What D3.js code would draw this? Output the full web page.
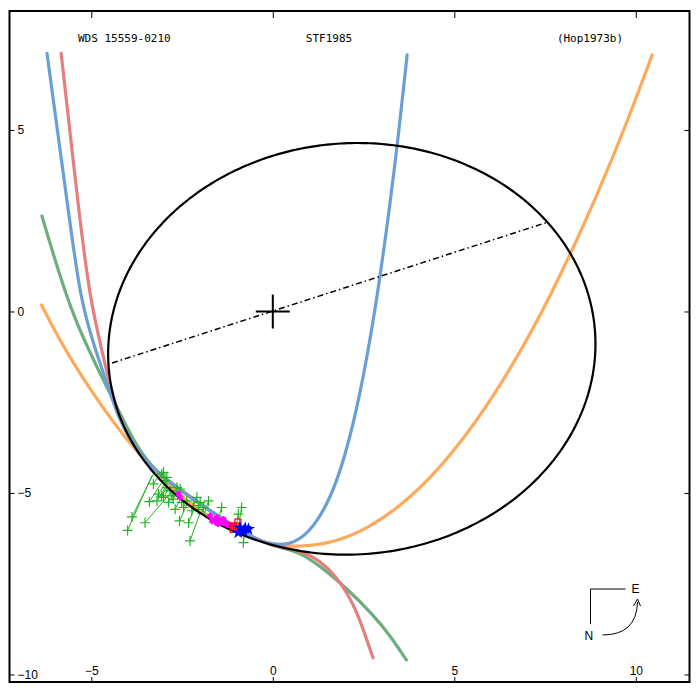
<!DOCTYPE html>
<html>
<head>
<meta charset="utf-8">
<script src="https://cdn.jsdelivr.net/npm/d3@7"></script>
<style>
  body { margin: 0; background: #fff; }
  svg { display: block; }
</style>
</head>
<body>
<div id="chart"></div>
<script>
// --- data (arcsec, x = east-west offset, y = north-south) ---
const titleLeft = "WDS 15559-0210";
const titleMid = "STF1985";
const titleRight = "(Hop1973b)";

const xTicks = [-5, 0, 5, 10];
const yTicks = [5, 0, -5, -10];

// points traced along the apparent orbit (ellipse is fitted to these)
const orbitPts = [
  [2.40, 4.67], [4.97, 4.20], [6.07, 3.65], [6.80, 3.19], [7.54, 2.45], [8.18, 1.57],
  [8.64, 0.79], [8.84, -1.14], [8.77, -2.26], [8.09, -3.46], [5.15, -6.09], [3.50, -6.51],
  [1.66, -6.71], [0.11, -6.51], [-0.54, -6.32], [-1.82, -5.54], [-2.83, -4.88],
  [-3.65, -3.97], [-4.56, -1.48], [-3.93, 1.25], [-3.10, 2.35], [-1.45, 3.65], [-0.17, 4.20]
];

// line of nodes end points
const nodeLine = [[-4.43, -1.42], [7.54, 2.45]];

// other solutions / ephemeris curves
const blueCurve = [
  [-6.22, 7.11], [-5.60, 2.54], [-5.30, 0.32], [-4.89, -1.06], [-4.53, -2.08], [-4.26, -2.91],
  [-3.93, -3.55], [-3.38, -4.33], [-2.00, -5.30], [-0.90, -6.05], [-0.21, -6.41], [0.47, -6.45],
  [1.02, -6.10], [1.58, -5.19], [1.99, -4.01], [2.40, -2.33], [2.81, -0.07], [3.22, 2.85],
  [3.50, 5.19], [3.70, 7.07]
];
const redCurve = [
  [-5.83, 7.11], [-5.32, 2.54], [-5.03, 0.32], [-4.71, -1.06], [-4.48, -2.08], [-4.20, -3.00],
  [-3.79, -3.83], [-3.10, -4.52], [-2.00, -5.30], [-0.90, -6.05], [-0.08, -6.46], [0.75, -6.57],
  [1.30, -6.87], [1.71, -7.26], [2.07, -7.78], [2.35, -8.36], [2.57, -8.99], [2.76, -9.54]
];
const greenCurve = [
  [-6.36, 2.63], [-5.95, 1.25], [-5.49, -0.14], [-4.94, -1.34], [-4.48, -2.26], [-4.02, -3.19],
  [-3.60, -3.97], [-2.97, -4.66], [-2.00, -5.30], [-0.90, -6.05], [-0.08, -6.46], [0.75, -6.60],
  [1.48, -7.16], [2.03, -7.62], [2.76, -8.35], [3.22, -8.91], [3.68, -9.60]
];
const orangeCurve = [
  [-6.37, 0.18], [-5.86, -0.81], [-5.31, -1.72], [-4.68, -2.66], [-4.02, -3.54], [-3.38, -4.27],
  [-2.69, -4.94], [-2.01, -5.50], [-1.32, -5.94], [-0.63, -6.24], [0.06, -6.43], [0.75, -6.49],
  [1.66, -6.37], [2.60, -6.00], [3.70, -5.23], [4.88, -4.03], [6.26, -2.11], [7.64, 0.35],
  [9.01, 3.36], [9.84, 5.42], [10.45, 7.07]
];

// micrometer measures (green +)
const greenObs = [
  [-4.00, -6.03], [-3.88, -5.66], [-3.52, -5.82], [-3.40, -5.24], [-3.06, -4.48], [-3.01, -4.43],
  [-2.97, -4.66], [-2.92, -4.85], [-3.15, -5.03], [-3.06, -5.08], [-2.87, -5.26], [-2.78, -5.08],
  [-2.64, -4.85], [-2.55, -4.89], [-2.69, -5.45], [-2.57, -5.77], [-2.32, -5.82], [-2.28, -6.32],
  [-2.51, -5.26], [-2.37, -5.22], [-2.09, -5.12], [-2.00, -5.26], [-1.91, -5.40], [-1.77, -5.22],
  [-1.41, -5.40], [-0.86, -5.40], [-0.95, -5.58], [-0.81, -6.37], [-2.92, -4.57], [-2.83, -4.94],
  [-2.74, -5.17], [-2.46, -5.40], [-2.23, -5.49], [-2.19, -5.35], [-2.05, -5.45], [-3.01, -5.12],
  [-3.19, -5.22], [-3.29, -4.75]
];
// measures whose O-C line runs far along the orbit: [index, predicted x, predicted y]
const greenLongOC = [[0, -3.33, -4.52], [1, -3.29, -4.48], [2, -2.77, -4.94]];

// photographic / interferometric measures
const magentaObs = [
  [-2.60, -5.03], [-2.55, -5.12], [-1.73, -5.63], [-1.59, -5.72], [-1.54, -5.68], [-1.45, -5.77],
  [-1.36, -5.82], [-1.31, -5.82], [-1.27, -5.86], [-1.22, -5.86], [-1.13, -5.91], [-1.04, -5.96],
  [-1.54, -5.82], [-1.36, -5.72], [-1.67, -5.77], [-1.51, -5.85]
];
const redObs = [[-1.09, -5.91], [-0.99, -5.91], [-1.09, -6.00], [-0.96, -5.80]];
const blueObs = [[-0.90, -5.96], [-0.76, -5.97], [-0.67, -6.00], [-0.95, -6.09], [-0.81, -6.05]];

// --- layout ---
const W = 697, H = 688;
const frame = { left: 9.5, right: 689.5, top: 11, bottom: 682 };

const x = d3.scaleLinear().domain([-7.253, 11.479]).range([frame.left, frame.right]);
const y = d3.scaleLinear().domain([-10.207, 8.278]).range([frame.bottom, frame.top]);

const svg = d3.select('#chart').append('svg')
    .attr('width', W)
    .attr('height', H);

svg.append('rect').attr('width', W).attr('height', H).attr('fill', '#fff');

// least squares conic fit: A x² + B xy + C y² + D x + E y = 1
function fitConic(pts) {
    const n = 5;
    const M = Array.from({ length: n }, () => new Array(n + 1).fill(0));
    pts.forEach(([px, py]) => {
        const v = [px * px, px * py, py * py, px, py];
        for (let i = 0; i < n; i++) {
            for (let j = 0; j < n; j++) M[i][j] += v[i] * v[j];
            M[i][n] += v[i];
        }
    });
    for (let c = 0; c < n; c++) {
        let p = c;
        for (let r = c + 1; r < n; r++) if (Math.abs(M[r][c]) > Math.abs(M[p][c])) p = r;
        [M[c], M[p]] = [M[p], M[c]];
        for (let r = 0; r < n; r++) {
            if (r === c) continue;
            const f = M[r][c] / M[c][c];
            for (let k = c; k <= n; k++) M[r][k] -= f * M[c][k];
        }
    }
    return M.map((row, i) => row[n] / row[i]);
}
const [cA, cB, cC, cD, cE] = fitConic(orbitPts);

// distance from the primary (origin) to the orbit in direction phi
function orbitR(phi) {
    const c = Math.cos(phi), s = Math.sin(phi);
    const Q = cA * c * c + cB * c * s + cC * s * s;
    const L = cD * c + cE * s;
    return (-L + Math.sqrt(L * L + 4 * Q)) / (2 * Q);
}
function onOrbit(px, py) {
    const phi = Math.atan2(py, px);
    const r = orbitR(phi);
    return [r * Math.cos(phi), r * Math.sin(phi)];
}

const line = d3.line().x(d => x(d[0])).y(d => y(d[1]));
const smooth = d3.line().x(d => x(d[0])).y(d => y(d[1])).curve(d3.curveBasis);

// --- axes (ticks point inwards) ---
const fontTicks = '"Liberation Sans", Arial, sans-serif';

const axB = svg.append('g')
    .attr('transform', `translate(0,${frame.bottom})`)
    .call(d3.axisTop(x).tickValues(xTicks).tickSize(5).tickPadding(2));
const axT = svg.append('g')
    .attr('transform', `translate(0,${frame.top})`)
    .call(d3.axisBottom(x).tickValues(xTicks).tickSize(7).tickFormat(''));
const axL = svg.append('g')
    .attr('transform', `translate(${frame.left},0)`)
    .call(d3.axisRight(y).tickValues(yTicks).tickSize(5).tickPadding(3));
const axR = svg.append('g')
    .attr('transform', `translate(${frame.right},0)`)
    .call(d3.axisLeft(y).tickValues(yTicks).tickSize(5).tickFormat(''));

[axB, axT, axL, axR].forEach(g => {
    g.select('.domain').remove();
    g.selectAll('line').attr('stroke', '#000').attr('stroke-width', 1);
    g.selectAll('text')
        .attr('fill', '#000')
        .style('font-family', fontTicks)
        .style('font-size', '12px');
});

// --- titles ---
const fontTitle = '"DejaVu Sans Mono", "Liberation Mono", monospace';
svg.append('text').attr('x', 78).attr('y', 42).text(titleLeft)
    .style('font-family', fontTitle).style('font-size', '11px');
svg.append('text').attr('x', 329).attr('y', 42).attr('text-anchor', 'middle').text(titleMid)
    .style('font-family', fontTitle).style('font-size', '11px');
svg.append('text').attr('x', 590).attr('y', 42).attr('text-anchor', 'middle').text(titleRight)
    .style('font-family', fontTitle).style('font-size', '11px');

// --- curves ---
const curves = [
    { pts: orangeCurve, color: '#ffa95a' },
    { pts: greenCurve, color: '#6cae7d' },
    { pts: redCurve, color: '#e37f7f' },
    { pts: blueCurve, color: '#6a9fd6' }
];
curves.forEach(c => {
    svg.append('path')
        .attr('d', smooth(c.pts))
        .attr('fill', 'none')
        .attr('stroke', c.color)
        .attr('stroke-width', 3.2)
        .attr('stroke-linecap', 'round');
});

// --- O-C lines and green measures ---
const gMeas = svg.append('g');
const longMap = new Map(greenLongOC.map(d => [d[0], [d[1], d[2]]]));
greenObs.forEach((d, i) => {
    const p = longMap.get(i) || onOrbit(d[0], d[1]);
    gMeas.append('line')
        .attr('x1', x(d[0])).attr('y1', y(d[1]))
        .attr('x2', x(p[0])).attr('y2', y(p[1]))
        .attr('stroke', '#22b422').attr('stroke-width', 1);
});
gMeas.selectAll('path.plus')
    .data(greenObs)
    .enter().append('path')
    .attr('class', 'plus')
    .attr('transform', d => `translate(${x(d[0])},${y(d[1])})`)
    .attr('d', 'M-5,0H5M0,-5V5')
    .attr('stroke', '#22b422')
    .attr('stroke-width', 1.2);

// --- orbit ---
const orbitPath = d3.range(0, 361).map(a => onOrbit(Math.cos(a * Math.PI / 180), Math.sin(a * Math.PI / 180)));
svg.append('path')
    .attr('d', line(orbitPath))
    .attr('fill', 'none')
    .attr('stroke', '#000')
    .attr('stroke-width', 2.2);

// line of nodes
svg.append('path')
    .attr('d', line(nodeLine))
    .attr('fill', 'none')
    .attr('stroke', '#000')
    .attr('stroke-width', 1.5)
    .attr('stroke-dasharray', '6,3,1.5,3');

// primary
svg.append('path')
    .attr('transform', `translate(${x(0)},${y(0)})`)
    .attr('d', 'M-17,0H17M0,-17V17')
    .attr('stroke', '#000')
    .attr('stroke-width', 2);

// --- other measures ---
const ast = d3.symbol().type(d3.symbolAsterisk).size(28);
svg.selectAll('path.mag')
    .data(magentaObs)
    .enter().append('path')
    .attr('class', 'mag')
    .attr('transform', d => `translate(${x(d[0])},${y(d[1])})`)
    .attr('d', ast)
    .attr('fill', 'none')
    .attr('stroke', '#ff00ff')
    .attr('stroke-width', 2);

svg.selectAll('rect.red')
    .data(redObs)
    .enter().append('rect')
    .attr('class', 'red')
    .attr('x', d => x(d[0]) - 3)
    .attr('y', d => y(d[1]) - 3)
    .attr('width', 6)
    .attr('height', 6)
    .attr('fill', 'none')
    .attr('stroke', '#ff0000')
    .attr('stroke-width', 1.2);

const star = d3.symbol().type(d3.symbolStar).size(55);
svg.selectAll('path.star')
    .data(blueObs)
    .enter().append('path')
    .attr('class', 'star')
    .attr('transform', d => `translate(${x(d[0])},${y(d[1])})`)
    .attr('d', star)
    .attr('fill', '#0000ff');

// --- orientation sign ---
const comp = svg.append('g').attr('transform', `translate(${frame.right - 99},${frame.bottom - 93})`);
comp.append('path')
    .attr('d', 'M0,35V0H35')
    .attr('fill', 'none')
    .attr('stroke', '#000')
    .attr('stroke-width', 1);
comp.append('path')
    .attr('d', 'M12,46Q46,46 47,13')
    .attr('fill', 'none')
    .attr('stroke', '#000')
    .attr('stroke-width', 1);
comp.append('path')
    .attr('d', 'M43,17L47,10L50,17')
    .attr('fill', 'none')
    .attr('stroke', '#000')
    .attr('stroke-width', 1);
comp.append('text').attr('x', 41).attr('y', 4).text('E')
    .style('font-family', fontTicks).style('font-size', '12px');
comp.append('text').attr('x', -6).attr('y', 51).text('N')
    .style('font-family', fontTicks).style('font-size', '12px');

// frame
svg.append('rect')
    .attr('x', frame.left).attr('y', frame.top)
    .attr('width', frame.right - frame.left)
    .attr('height', frame.bottom - frame.top)
    .attr('fill', 'none')
    .attr('stroke', '#000')
    .attr('stroke-width', 2);
</script>
</body>
</html>
